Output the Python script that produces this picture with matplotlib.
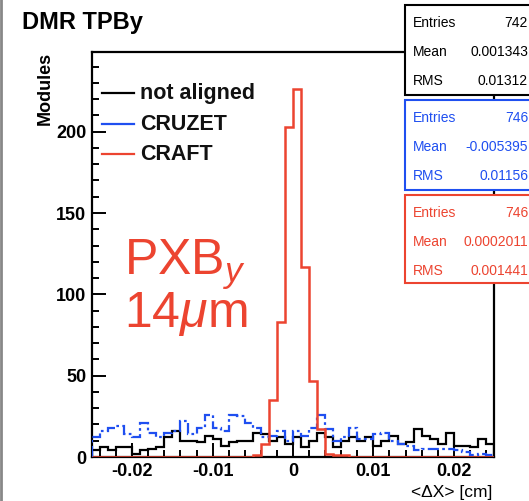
import numpy as np
import matplotlib
matplotlib.use("Agg")
import matplotlib.pyplot as plt
from matplotlib.lines import Line2D
from matplotlib.patches import Rectangle
from matplotlib.ticker import MultipleLocator

plt.rcParams['font.family'] = ['Liberation Sans', 'DejaVu Sans']
plt.rcParams['axes.unicode_minus'] = False
plt.rcParams['mathtext.fontset'] = 'custom'
plt.rcParams['mathtext.rm'] = 'Liberation Sans'
plt.rcParams['mathtext.it'] = 'Liberation Sans:italic'

# ---------------- data ----------------
x_min, x_max, n_bins = -0.025, 0.025, 50

not_aligned = [4, 6, 4, 6, 6, 2, 4, 5, 6, 12,
               16, 10, 10, 9, 13, 11, 7, 9, 10, 10,
               15, 14, 10, 12, 8, 12, 6, 10, 15, 12,
               6, 10, 12, 10, 12, 7, 10, 13, 8, 9,
               17, 13, 11, 8, 15, 7, 7, 6, 11, 8]
cruzet = [12, 16, 18, 19, 14, 12, 21, 15, 12, 15,
          16, 22, 14, 18, 26, 18, 16, 26, 25, 21,
          18, 12, 13, 16, 10, 16, 13, 18, 26, 17,
          10, 12, 18, 11, 11, 14, 15, 10, 8, 7,
          4, 5, 5, 5, 5, 4, 3, 1, 2, 1]
craft = [0, 0, 0, 0, 0, 0, 0, 0, 0, 0,
         0, 0, 0, 0, 0, 0, 0, 0, 0, 0,
         1, 8, 35, 83, 203, 226, 117, 47, 17, 2,
         1, 1, 0, 0, 0, 0, 0, 0, 0, 0,
         0, 0, 0, 0, 0, 0, 0, 0, 0, 0]

series_names = ["not aligned", "CRUZET", "CRAFT"]
stats = {
    "not aligned": [("Entries", "742"), ("Mean", "0.001343"), ("RMS", "0.01312")],
    "CRUZET": [("Entries", "746"), ("Mean", "-0.005395"), ("RMS", "0.01156")],
    "CRAFT": [("Entries", "746"), ("Mean", "0.0002011"), ("RMS", "0.001441")],
}
x_ticks = [-0.02, -0.01, 0.0, 0.01, 0.02]
x_tick_labels = ["-0.02", "-0.01", "0", "0.01", "0.02"]
y_ticks = [0, 50, 100, 150, 200]
y_tick_labels = ["0", "50", "100", "150", "200"]

# ---------------- style ----------------
W, H = 529, 501
BLACK = '#000000'
BLUE = '#1f4ff0'
RED = '#ec4430'
colors = [BLACK, BLUE, RED]

def fx(px):
    return px / W

def fy(py):
    return 1 - py / H

fig = plt.figure(figsize=(W / 100, H / 100), dpi=100)
fig.patch.set_facecolor('white')

ax_l, ax_r, ax_t, ax_b = 92, 494, 52, 457
ax = fig.add_axes([fx(ax_l), fy(ax_b), fx(ax_r) - fx(ax_l), fy(ax_t) - fy(ax_b)])

edges = np.linspace(x_min, x_max, n_bins + 1)
ax.stairs(not_aligned, edges, color=BLACK, lw=1.6, baseline=0, zorder=3)
ax.stairs(cruzet, edges, color=BLUE, lw=1.6, baseline=0, zorder=4,
          linestyle=(0, (5, 1.5, 1.2, 1.5)))
ax.stairs(craft, edges, color=RED, lw=1.8, baseline=0, zorder=5)

ax.set_xlim(x_min, x_max)
ax.set_ylim(0, 249)

ax.set_xticks(x_ticks)
ax.set_xticklabels(x_tick_labels)
ax.set_yticks(y_ticks)
ax.set_yticklabels(y_tick_labels)
ax.xaxis.set_minor_locator(MultipleLocator(0.002))
ax.yaxis.set_minor_locator(MultipleLocator(10))
ax.tick_params(which='major', direction='in', length=10, width=1.4,
               top=False, right=False, labelsize=13, pad=4)
ax.tick_params(which='minor', direction='in', length=5, width=1.4,
               top=False, right=False)
for lab in ax.get_xticklabels() + ax.get_yticklabels():
    lab.set_fontweight('bold')
for s in ax.spines.values():
    s.set_linewidth(1.6)

# axis titles
fig.text(fx(492), fy(492), "<\u0394X> [cm]", ha='right', va='center', fontsize=12.5)
fig.text(fx(45), fy(52), "Modules", rotation=90, ha='center', va='top',
         fontsize=13, fontweight='bold')

# title
fig.text(fx(22), fy(22), "DMR TPBy", ha='left', va='center', fontsize=17,
         fontweight='bold')

# legend
leg_y = [93, 124, 154]
for name, c, yy in zip(series_names, colors, leg_y):
    fig.add_artist(Line2D([fx(102), fx(134)], [fy(yy), fy(yy)], color=c, lw=1.6))
    fig.text(fx(140), fy(yy), name, ha='left', va='center', fontsize=15.5,
             fontweight='bold', color='#111111')

# big label
fig.text(fx(124), fy(265), r"PXB$_y$", ha='left', va='center', fontsize=36, color=RED)
fig.text(fx(124), fy(314), r"14$\mu$m", ha='left', va='center', fontsize=36, color=RED)

# stats boxes
box_tops = [5, 100, 195]
box_h = [90, 90, 88]
line_offsets = [18, 47, 76]
for name, c, top, hh in zip(series_names, colors, box_tops, box_h):
    rect = Rectangle((fx(405), fy(top + hh)), fx(560) - fx(405), fy(top) - fy(top + hh),
                     transform=fig.transFigure, facecolor='white', edgecolor=c,
                     lw=1.5, zorder=10)
    fig.add_artist(rect)
    for (k, v), off in zip(stats[name], line_offsets):
        fig.text(fx(413), fy(top + off), k, ha='left', va='center', fontsize=10,
                 color=c, zorder=11)
        fig.text(fx(528), fy(top + off), v, ha='right', va='center', fontsize=10,
                 color=c, zorder=11)

# outer frame at the left edge
fig.add_artist(Line2D([0.002, 0.002], [0, 1], color='#888888', lw=2))

fig.savefig("out.png", dpi=100)
